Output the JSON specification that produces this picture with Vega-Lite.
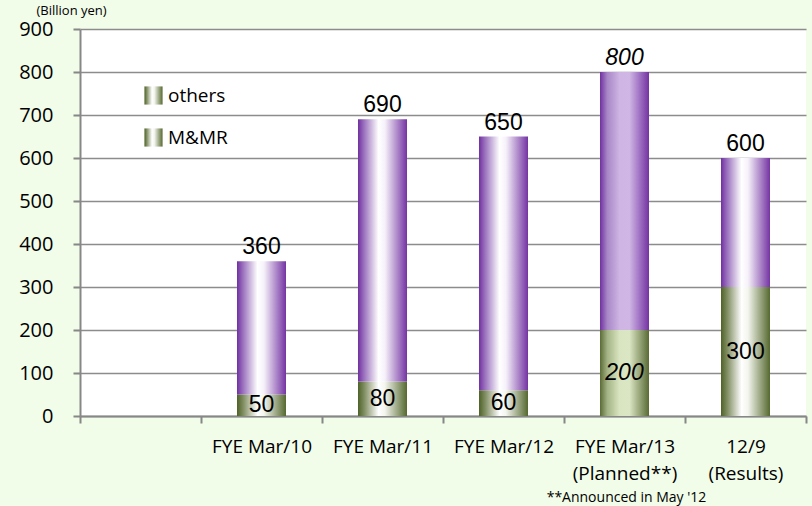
{
  "$schema": "https://vega.github.io/schema/vega-lite/v6.json",
  "width": 726,
  "height": 387,
  "autosize": {"type": "none"},
  "padding": {"left": 80, "top": 29, "right": 6, "bottom": 90},
  "data": {
    "values": [
      {"cat": "FYE Mar/10", "mmr": 50, "total": 360, "planned": false},
      {"cat": "FYE Mar/11", "mmr": 80, "total": 690, "planned": false},
      {"cat": "FYE Mar/12", "mmr": 60, "total": 650, "planned": false},
      {"cat": "FYE Mar/13|(Planned**)", "mmr": 200, "total": 800, "planned": true},
      {"cat": "12/9|(Results)", "mmr": 300, "total": 600, "planned": false}
    ]
  },
  "encoding": {
    "x": {
      "field": "cat",
      "type": "nominal",
      "sort": null,
      "scale": {
        "domain": [" ", "FYE Mar/10", "FYE Mar/11", "FYE Mar/12", "FYE Mar/13|(Planned**)", "12/9|(Results)"],
        "paddingInner": 0,
        "paddingOuter": 0
      },
      "axis": {
        "labelExpr": "split(datum.label, '|')",
        "labelAngle": 0,
        "tickBand": "extent",
        "tickSize": 7,
        "labelPadding": 14,
        "labelFontSize": 19,
        "labelLineHeight": 27,
        "labelBaseline": "top",
        "grid": false,
        "title": "**Announced in May '12",
        "titleX": 546,
        "titleY": 81,
        "titleAlign": "center",
        "titleBaseline": "middle",
        "titleFontSize": 14,
        "titleFontWeight": "normal",
        "titleFont": "Open Sans",
        "titleColor": "black"
      }
    }
  },
  "layer": [
    {
      "transform": [{"filter": "!datum.planned"}],
      "mark": {
        "type": "bar",
        "width": {"band": 0.405},
        "strokeWidth": 0,
        "color": {"gradient": "linear", "x1": 0, "y1": 0, "x2": 1, "y2": 0,
          "stops": [{"offset": 0, "color": "#4f6228"}, {"offset": 0.12, "color": "#7d8b5e"}, {"offset": 0.42, "color": "#ffffff"}, {"offset": 0.55, "color": "#f3f5ee"}, {"offset": 1, "color": "#56692f"}]}
      },
      "encoding": {
        "y": {"field": "mmr", "type": "quantitative", "title": "(Billion yen)", "scale": {"domain": [0, 900]}},
        "stroke": {
          "datum": "M&MR",
          "scale": {"domain": ["others", "M&MR"], "range": ["#7a3fa8", "#5f7040"]},
          "legend": {
            "orient": "none",
            "legendX": 64,
            "legendY": 57,
            "title": null,
            "padding": 0,
            "symbolType": "square",
            "symbolSize": 330,
            "symbolStrokeWidth": 0,
            "symbolOpacity": 1,
            "labelFont": "Open Sans",
            "labelFontSize": 19,
            "labelColor": "black",
            "labelOffset": 5,
            "rowPadding": 22,
            "encode": {
              "symbols": {
                "update": {
                  "fill": [
                    {"test": "datum.value === 'others'", "value": {"gradient": "linear", "x1": 0, "y1": 0, "x2": 1, "y2": 0, "stops": [{"offset": 0, "color": "#7030a0"}, {"offset": 0.3, "color": "#8d5cb8"}, {"offset": 0.6, "color": "#ffffff"}, {"offset": 1, "color": "#a98ac8"}]}},
                    {"value": {"gradient": "linear", "x1": 0, "y1": 0, "x2": 1, "y2": 0, "stops": [{"offset": 0, "color": "#4f6228"}, {"offset": 0.3, "color": "#6f7f4c"}, {"offset": 0.6, "color": "#ffffff"}, {"offset": 1, "color": "#95a27a"}]}}
                  ],
                  "strokeWidth": {"value": 0},
                  "opacity": {"value": 1},
                  "fillOpacity": {"value": 1}
                }
              }
            }
          }
        }
      }
    },
    {
      "transform": [{"filter": "!datum.planned"}],
      "mark": {
        "type": "bar",
        "width": {"band": 0.405},
        "strokeWidth": 0,
        "color": {"gradient": "linear", "x1": 0, "y1": 0, "x2": 1, "y2": 0,
          "stops": [{"offset": 0, "color": "#7030a0"}, {"offset": 0.12, "color": "#9a70bd"}, {"offset": 0.42, "color": "#ffffff"}, {"offset": 0.55, "color": "#f6f1fa"}, {"offset": 1, "color": "#7434a3"}]}
      },
      "encoding": {
        "y": {"field": "total", "type": "quantitative", "title": "(Billion yen)"},
        "y2": {"field": "mmr"},
        "stroke": {"datum": "others"}
      }
    },
    {
      "transform": [{"filter": "datum.planned"}],
      "mark": {
        "type": "bar",
        "width": {"band": 0.405},
        "strokeWidth": 0,
        "color": {"gradient": "linear", "x1": 0, "y1": 0, "x2": 1, "y2": 0,
          "stops": [{"offset": 0, "color": "#5a6b35"}, {"offset": 0.15, "color": "#a4b385"}, {"offset": 0.4, "color": "#d9e5c1"}, {"offset": 0.6, "color": "#dbe6c4"}, {"offset": 1, "color": "#5a6b35"}]}
      },
      "encoding": {
        "y": {"field": "mmr", "type": "quantitative", "title": "(Billion yen)"},
        "stroke": {"datum": "M&MR"}
      }
    },
    {
      "transform": [{"filter": "datum.planned"}],
      "mark": {
        "type": "bar",
        "width": {"band": 0.405},
        "strokeWidth": 0,
        "color": {"gradient": "linear", "x1": 0, "y1": 0, "x2": 1, "y2": 0,
          "stops": [{"offset": 0, "color": "#7030a0"}, {"offset": 0.15, "color": "#a887c7"}, {"offset": 0.4, "color": "#ceb5e3"}, {"offset": 0.6, "color": "#cfb6e4"}, {"offset": 1, "color": "#7434a3"}]}
      },
      "encoding": {
        "y": {"field": "total", "type": "quantitative", "title": "(Billion yen)"},
        "y2": {"field": "mmr"},
        "stroke": {"datum": "others"}
      }
    },
    {
      "transform": [{"filter": "!datum.planned"}],
      "mark": {"type": "text", "font": "Liberation Sans", "fontSize": 23, "baseline": "alphabetic", "dy": -7, "color": "black"},
      "encoding": {
        "y": {"field": "total", "type": "quantitative", "title": "(Billion yen)"},
        "text": {"field": "total"}
      }
    },
    {
      "transform": [{"filter": "datum.planned"}],
      "mark": {"type": "text", "font": "Liberation Sans", "fontSize": 23, "fontStyle": "italic", "baseline": "alphabetic", "dy": -7, "color": "black"},
      "encoding": {
        "y": {"field": "total", "type": "quantitative", "title": "(Billion yen)"},
        "text": {"field": "total"}
      }
    },
    {
      "transform": [{"filter": "!datum.planned"}, {"calculate": "datum.mmr / 2", "as": "mid"}],
      "mark": {"type": "text", "font": "Liberation Sans", "fontSize": 23, "baseline": "middle", "color": "black"},
      "encoding": {
        "y": {"field": "mid", "type": "quantitative", "title": "(Billion yen)"},
        "text": {"field": "mmr"}
      }
    },
    {
      "transform": [{"filter": "datum.planned"}, {"calculate": "datum.mmr / 2", "as": "mid"}],
      "mark": {"type": "text", "font": "Liberation Sans", "fontSize": 23, "fontStyle": "italic", "baseline": "middle", "color": "black"},
      "encoding": {
        "y": {"field": "mid", "type": "quantitative", "title": "(Billion yen)"},
        "text": {"field": "mmr"}
      }
    }
  ],
  "config": {
    "background": "#f1fce9",
    "view": {"fill": "white", "stroke": null},
    "axis": {
      "domainColor": "#878787",
      "domainWidth": 2,
      "tickColor": "#878787",
      "tickWidth": 2,
      "labelColor": "black",
      "labelFont": "Open Sans"
    },
    "axisY": {
      "grid": true,
      "gridColor": "#8c8c8c",
      "gridWidth": 1.5,
      "tickSize": 7,
      "labelPadding": 20,
      "labelFontSize": 20,
      "values": [0, 100, 200, 300, 400, 500, 600, 700, 800, 900],
      "titleAngle": 0,
      "titleX": -44,
      "titleY": -19,
      "titleAlign": "left",
      "titleBaseline": "middle",
      "titleFont": "Open Sans",
      "titleFontSize": 13,
      "titleFontWeight": "normal",
      "titleColor": "black"
    }
  }
}
